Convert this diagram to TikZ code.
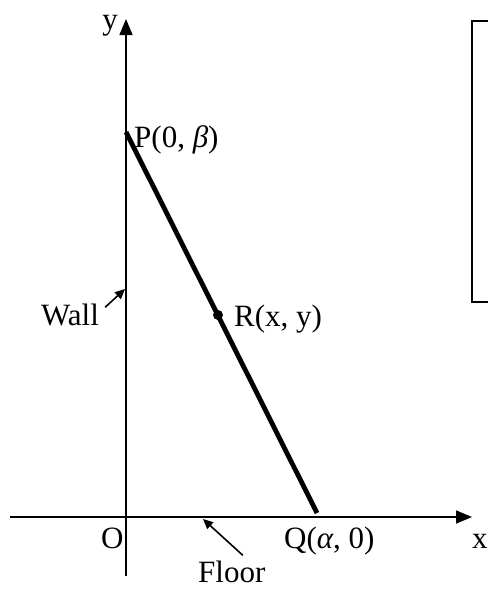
\documentclass[tikz,border=0pt]{standalone}
\usepackage{fontspec}
\setmainfont{Liberation Serif}
\usetikzlibrary{arrows.meta}
\tikzset{
  axis/.style={line width=1.5pt, -{Triangle[length=16pt,width=13pt]}},
  rod/.style={line width=4.8pt},
  pointer/.style={line width=1.6pt, -{Triangle[length=10pt,width=9pt]}},
  lbl/.style={inner sep=0pt, font=\fontsize{31}{33}\selectfont},
  frame/.style={line width=1.5pt}
}
\begin{document}
\begin{tikzpicture}[x=1pt,y=-1pt]
\clip (0,0) rectangle (488,590);
\fill[white] (0,0) rectangle (488,590);
% key points
\coordinate (xs) at (10,517);
\coordinate (xe) at (472,517);
\coordinate (ys) at (126,576);
\coordinate (ye) at (126,19);
\coordinate (P) at (126,132);
\coordinate (Q) at (317,513);
\coordinate (R) at (218,315);
% axes
\draw[axis] (xs) -- (xe);
\draw[axis] (ys) -- (ye);
% rod
\draw[rod] (P) -- (Q);
\fill (R) circle (5pt);
% labels
\node[lbl, anchor=base] (ylab) at (110,29) {y};
\node[lbl, anchor=base west] (Plab) at (134,147) {P(0, {\itshape β})};
\node[lbl, anchor=base west] (Rlab) at (234,326) {R(x, y)};
\node[lbl, anchor=base west] (wall) at (41,325) {Wall};
\node[lbl, anchor=base west] (Olab) at (101,548) {O};
\node[lbl, anchor=base west] (Qlab) at (284,548) {Q({\itshape α}, 0)};
\node[lbl, anchor=base west] (xlab) at (472,548) {x};
\node[lbl, anchor=base west] (floor) at (198,582) {Floor};
% pointers
\coordinate (wtip) at (125,289);
\coordinate (ftip) at (203,519);
\draw[pointer] (wall.north east) ++(6,4) -- (wtip);
\draw[pointer] (floor.north) ++(11,-5) -- (ftip);
% partial frame on the right
\draw[frame] (500,21) -- (472,21) -- (472,302) -- (500,302);
\end{tikzpicture}
\end{document}
